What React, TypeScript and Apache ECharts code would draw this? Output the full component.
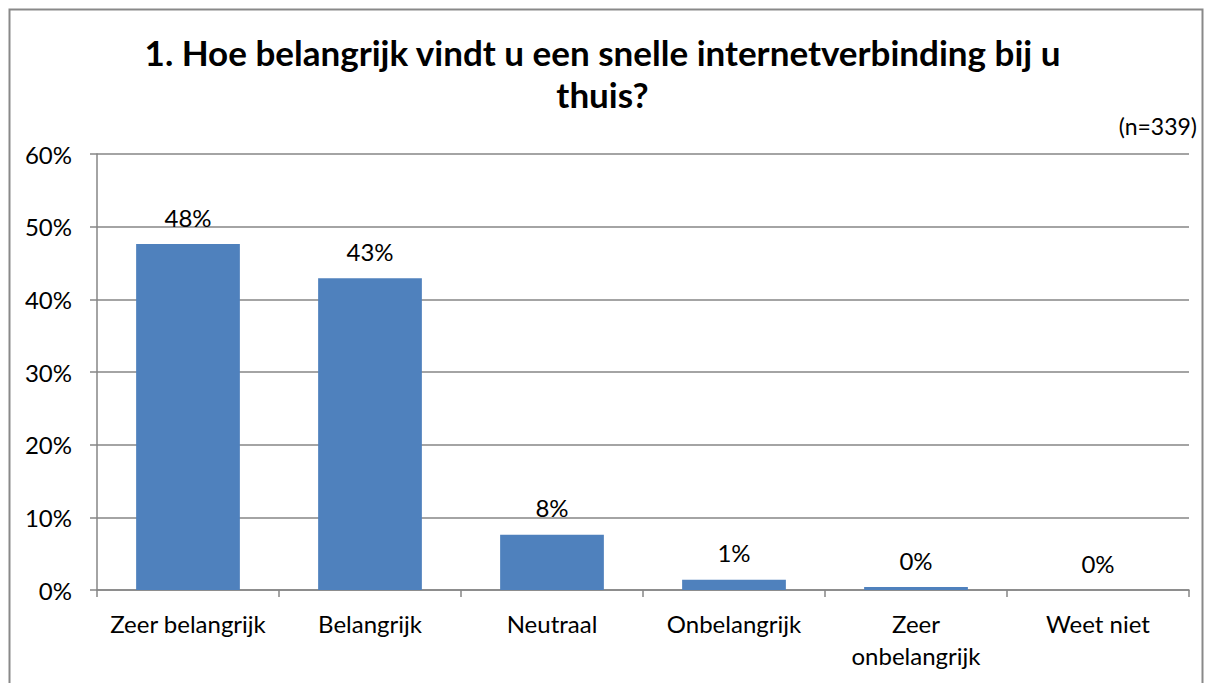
import React, { useEffect, useRef } from "react";
import * as echarts from "echarts";

const categories = ["Zeer belangrijk", "Belangrijk", "Neutraal", "Onbelangrijk", "Zeer onbelangrijk", "Weet niet"];
const values = [47.6, 42.9, 7.6, 1.4, 0.4, 0];
const yTicks = [0, 10, 20, 30, 40, 50, 60];
const titleText = "1. Hoe belangrijk vindt u een snelle internetverbinding bij u\nthuis?";
const noteText = "(n=339)";

const FONT = "Lato, 'Open Sans', sans-serif";
const GRAY = "#868686";

export default function App() {
  const ref = useRef<HTMLDivElement>(null);
  useEffect(() => {
    if (!ref.current) return;
    const chart = echarts.init(ref.current, null, { renderer: "svg" });
    chart.setOption({
      animation: false,
      backgroundColor: "#ffffff",
      textStyle: { fontFamily: FONT, color: "#000" },
      title: {
        text: titleText,
        left: "center",
        top: 26,
        textStyle: { fontFamily: FONT, fontSize: 35, fontWeight: "bold", color: "#000", lineHeight: 42, align: "center" },
      },
      graphic: [
        {
          type: "rect",
          shape: { x: 9.5, y: 9.5, width: 1193, height: 700 },
          style: { fill: "none", stroke: "#898989", lineWidth: 2 },
          silent: true,
        },
        {
          type: "text",
          right: 8,
          top: 114,
          style: { text: noteText, fontFamily: FONT, fontSize: 23, fill: "#000" },
        },
      ],
      grid: { left: 97, right: 16, top: 154, bottom: 93, containLabel: false },
      xAxis: {
        type: "category",
        data: categories,
        axisLine: { show: true, lineStyle: { color: GRAY, width: 1.5 } },
        axisTick: { show: true, length: 7, alignWithLabel: false, lineStyle: { color: GRAY, width: 1.5 } },
        axisLabel: {
          interval: 0,
          margin: 17,
          fontFamily: FONT,
          fontSize: 24,
          color: "#000",
          lineHeight: 32,
          formatter: (v: string) => (v.length > 15 ? v.replace(" ", "\n") : v),
        },
      },
      yAxis: {
        type: "value",
        min: yTicks[0],
        max: yTicks[yTicks.length - 1],
        interval: 10,
        axisLine: { show: true, lineStyle: { color: GRAY, width: 1.5 } },
        axisTick: { show: true, length: 7, lineStyle: { color: GRAY, width: 1.5 } },
        splitLine: { show: true, lineStyle: { color: GRAY, width: 1.5 } },
        axisLabel: {
          margin: 25,
          fontFamily: FONT,
          fontSize: 24,
          color: "#000",
          formatter: (v: number) => `${v}%`,
        },
      },
      series: [
        {
          type: "bar",
          data: values,
          barCategoryGap: "43%",
          itemStyle: { color: "#4F81BD" },
          label: {
            show: true,
            position: "top",
            distance: 15,
            fontFamily: FONT,
            fontSize: 24,
            color: "#000",
            formatter: (p: any) => `${Math.round(p.value)}%`,
          },
        },
      ],
    });
    return () => chart.dispose();
  }, []);
  return <div ref={ref} style={{ position: "fixed", left: 0, top: 0, width: 1205, height: 683 }} />;
}
